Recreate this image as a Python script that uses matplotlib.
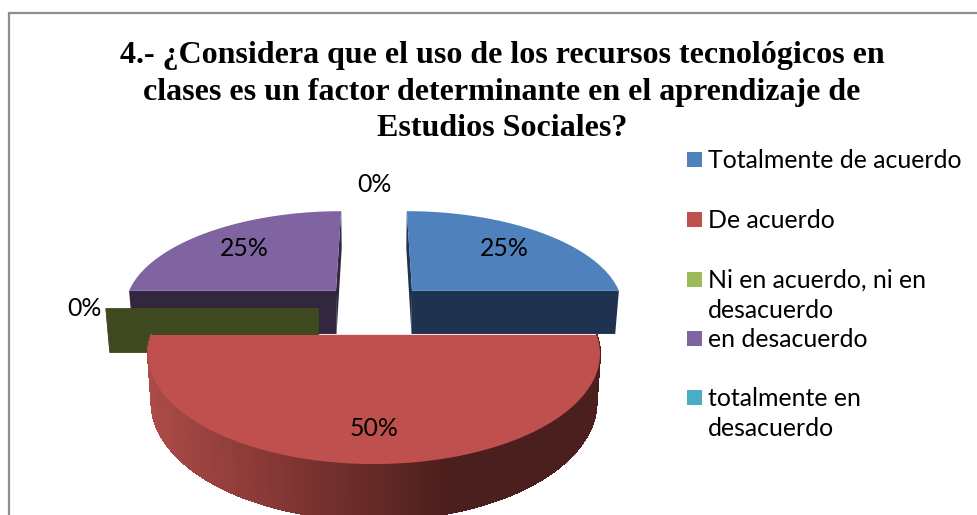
import matplotlib

matplotlib.use("Agg")
import matplotlib.pyplot as plt
import numpy as np
from matplotlib.collections import PolyCollection
from matplotlib.colors import LinearSegmentedColormap
from matplotlib.patches import Polygon, Rectangle

title_lines = [
    "4.- ¿Considera que el uso de los recursos tecnológicos en",
    "clases es un factor determinante en el aprendizaje de",
    "Estudios Sociales?",
]
categories = [
    "Totalmente de acuerdo",
    "De acuerdo",
    "Ni en acuerdo, ni en\ndesacuerdo",
    "en desacuerdo",
    "totalmente en\ndesacuerdo",
]
values = [25, 50, 0, 25, 0]
top_colors = ["#4F81BD", "#C0504D", "#9BBB59", "#8064A2", "#4BACC6"]
side_colors = ["#1F3350", "#4D1E1C", "#3F4A21", "#33263F", "#1E4B58"]

# layout, all in pixels of the 978x515 canvas
CX, RX, HORIZON, FLOOR = 374, 223, -288, 624
PERSP = 0.172
THICK = 46.5
SHRINK = 0.015
EXPLODE = 0.26
PIE_V = 0.27
label_radius = [0.70, 0.76, 1.10, 0.70, 1.33]
legend_y = [160, 220, 280, 339, 398]
LEGEND_FONT = 17.9
side_cmap = LinearSegmentedColormap.from_list("side", ["#AC4B47", "#7E3432", "#4B1F1D", "#4B1F1D"])


def project(u, v, z=0.0):
    t = 1 / (1 + v * PERSP)
    x = CX + RX * u * t * (1 - SHRINK * z)
    y = HORIZON + FLOOR * t + THICK * z * t
    return x, y


fig = plt.figure(figsize=(9.78, 5.15), dpi=100, facecolor="white")
ax = fig.add_axes([0, 0, 1, 1])
ax.set_xlim(0, 978)
ax.set_ylim(515, 0)
ax.axis("off")

ax.add_patch(Rectangle((9, 13), 1000, 520, fc="white", ec="#8E8E8E", lw=1.6, zorder=0))

for i, line in enumerate(title_lines):
    ax.text(502, 56 + i * 36.5, line, ha="center", va="center", family="Liberation Serif",
            weight="bold", fontsize=23.0, color="black", zorder=30)

# pie starts at twelve o'clock and runs clockwise, angles measured from the top
edges = np.cumsum([0] + values) / sum(values) * 2 * np.pi
slices = []
for i in range(len(values)):
    a0, a1 = edges[i], edges[i + 1]
    mid = (a0 + a1) / 2
    u0 = EXPLODE * np.sin(mid)
    v0 = PIE_V + EXPLODE * np.cos(mid)
    slices.append((v0, i, a0, a1, mid, u0))

# far slices first so nearer ones paint over them
layer = 3
for v0, i, a0, a1, mid, u0 in sorted(slices, key=lambda s: -s[0]):
    n = max(2, int((a1 - a0) * 60))
    ang = np.linspace(a0, a1, n)
    us = u0 + np.sin(ang)
    vs = v0 + np.cos(ang)
    layer += 2

    for a in (a0, a1):
        ue, ve = u0 + np.sin(a), v0 + np.cos(a)
        quad = [project(u0, v0), project(ue, ve), project(ue, ve, 1), project(u0, v0, 1)]
        ax.add_patch(Polygon(quad, fc=side_colors[i], ec="none", zorder=layer))

    if values[i] == 0:
        continue

    top_x, top_y = project(us, vs)
    low_x, low_y = project(us, vs, 1)

    # only the rim on the near half of the pie can be seen
    facets = []
    shades = []
    for k in range(n - 1):
        if np.cos(ang[k]) + np.cos(ang[k + 1]) > 0:
            continue
        facets.append([(top_x[k], top_y[k]), (top_x[k + 1], top_y[k + 1]),
                       (low_x[k + 1], low_y[k + 1]), (low_x[k], low_y[k])])
        shades.append((top_x[k] - top_x.min()) / (top_x.max() - top_x.min()))
    if facets:
        face = side_cmap(np.array(shades))
        ax.add_collection(PolyCollection(facets, facecolors=face, edgecolors=face, linewidths=0.8,
                                         antialiaseds=False, zorder=layer))

    outline = [project(u0, v0)] + list(zip(top_x, top_y))
    ax.add_patch(Polygon(outline, fc=top_colors[i], ec="none", zorder=layer + 1))

total = sum(values)
for v0, i, a0, a1, mid, u0 in slices:
    r = label_radius[i]
    x, y = project(u0 + r * np.sin(mid), v0 + r * np.cos(mid))
    ax.text(x, y, f"{values[i] / total:.0%}", ha="center", va="center", family="Lato",
            fontsize=LEGEND_FONT, color="black", zorder=30)

for name, y, color in zip(categories, legend_y, top_colors):
    ax.add_patch(Rectangle((687, y - 8), 15, 15, fc=color, ec="none", zorder=30))
    ax.text(708, y - 11, name, ha="left", va="top", family="Lato", fontsize=LEGEND_FONT,
            linespacing=1.38, color="black", zorder=30)

fig.savefig("out.png", dpi=100)
